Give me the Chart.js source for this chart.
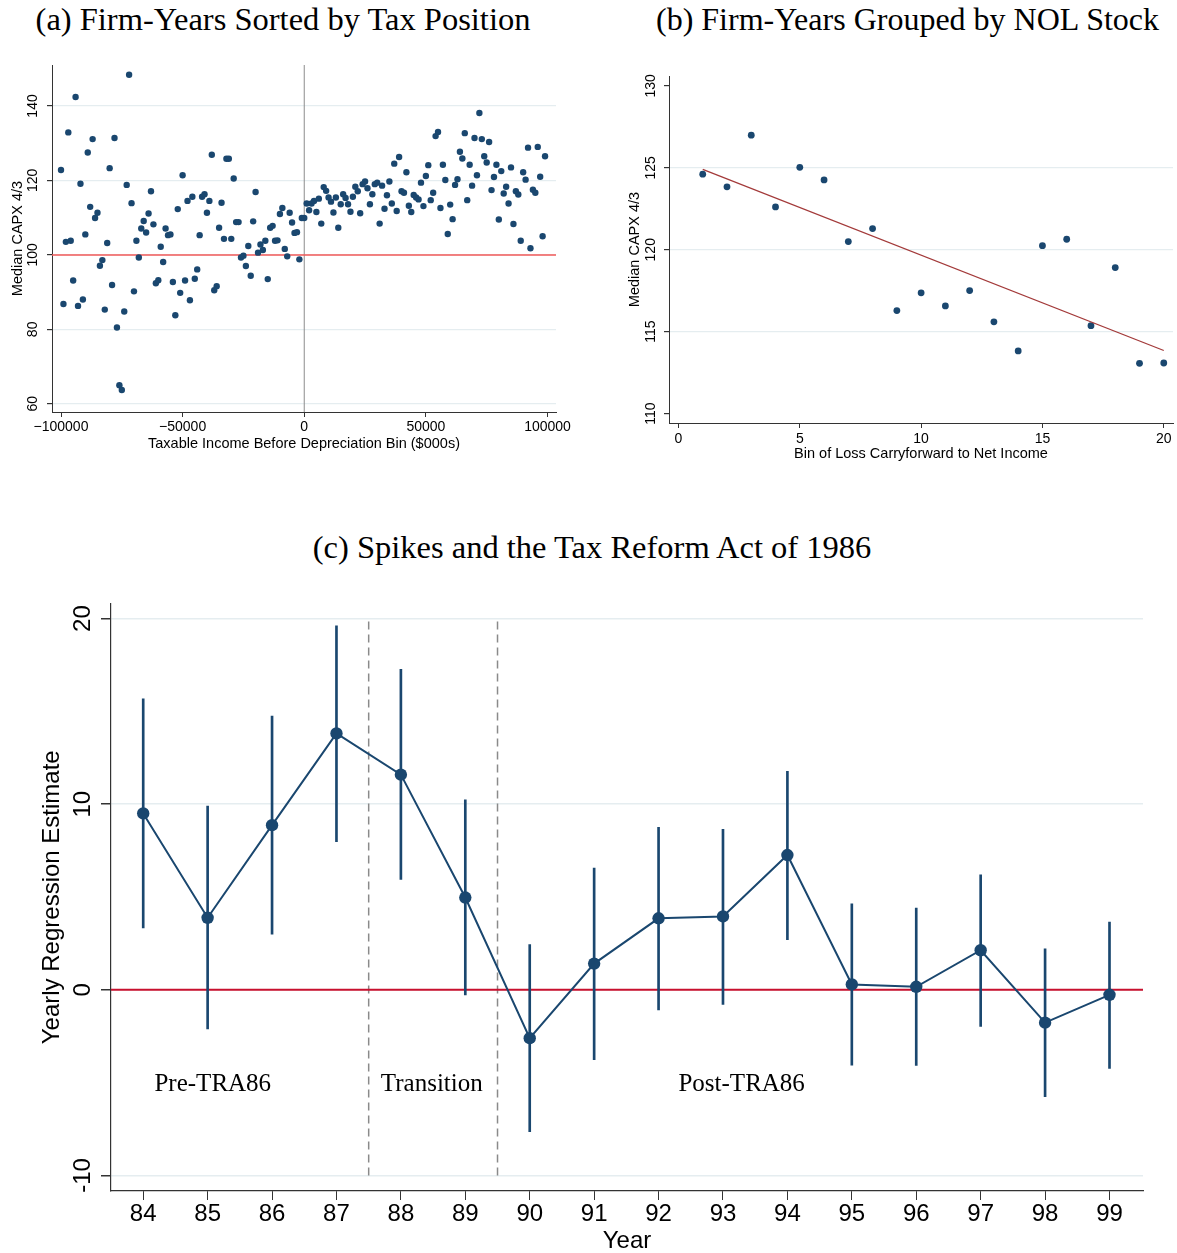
<!DOCTYPE html>
<html>
<head>
<meta charset="utf-8">
<script src="https://cdn.jsdelivr.net/npm/chart.js@4.4.1/dist/chart.umd.min.js"></script>
<style>
  html, body { margin: 0; padding: 0; background: #fff; }
  body { width: 1177px; height: 1253px; position: relative; overflow: hidden; }
  .title { position: absolute; font-family: "Liberation Serif", serif; font-size: 32.5px; line-height: 32px; color: #000; text-align: center; white-space: nowrap; }
  canvas { position: absolute; }
</style>
</head>
<body>
<div class="title" style="left:0;width:566px;top:3px">(a) Firm-Years Sorted by Tax Position</div>
<div class="title" style="left:656px;width:500px;top:3px;font-size:32px">(b) Firm-Years Grouped by NOL Stock</div>
<div class="title" style="left:0;width:1184px;top:531px">(c) Spikes and the Tax Reform Act of 1986</div>
<canvas id="chartA" width="590" height="420" style="left:0;top:50px"></canvas>
<canvas id="chartB" width="577" height="420" style="left:600px;top:50px"></canvas>
<canvas id="chartC" width="1177" height="673" style="left:0;top:580px"></canvas>
<script>
// (a) taxable income bins ($000s) and median CAPX 4/3
const binA = [
  -100000, -99000, -98000, -97000, -96000, -95000, -94000, -93000, -92000, -91000,
  -90000, -89000, -88000, -87000, -86000, -85000, -84000, -83000, -82000, -81000,
  -80000, -79000, -78000, -77000, -76000, -75000, -74000, -73000, -72000, -71000,
  -70000, -69000, -68000, -67000, -66000, -65000, -64000, -63000, -62000, -61000,
  -60000, -59000, -58000, -57000, -56000, -55000, -54000, -53000, -52000, -51000,
  -50000, -49000, -48000, -47000, -46000, -45000, -44000, -43000, -42000, -41000,
  -40000, -39000, -38000, -37000, -36000, -35000, -34000, -33000, -32000, -31000,
  -30000, -29000, -28000, -27000, -26000, -25000, -24000, -23000, -22000, -21000,
  -20000, -19000, -18000, -17000, -16000, -15000, -14000, -13000, -12000, -11000,
  -10000, -9000, -8000, -7000, -6000, -5000, -4000, -3000, -2000, -1000,
  0, 1000, 2000, 3000, 4000, 5000, 6000, 7000, 8000, 9000,
  10000, 11000, 12000, 13000, 14000, 15000, 16000, 17000, 18000, 19000,
  20000, 21000, 22000, 23000, 24000, 25000, 26000, 27000, 28000, 29000,
  30000, 31000, 32000, 33000, 34000, 35000, 36000, 37000, 38000, 39000,
  40000, 41000, 42000, 43000, 44000, 45000, 46000, 47000, 48000, 49000,
  50000, 51000, 52000, 53000, 54000, 55000, 56000, 57000, 58000, 59000,
  60000, 61000, 62000, 63000, 64000, 65000, 66000, 67000, 68000, 69000,
  70000, 71000, 72000, 73000, 74000, 75000, 76000, 77000, 78000, 79000,
  80000, 81000, 82000, 83000, 84000, 85000, 86000, 87000, 88000, 89000,
  90000, 91000, 92000, 93000, 94000, 95000, 96000, 97000, 98000, 99000
];
const capxA = [
  122.8, 86.8, 103.5, 132.9, 103.8, 93.1, 142.4, 86.3, 119.1, 88.0,
  105.5, 127.5, 112.9, 131.1, 109.9, 111.3, 97.1, 98.6, 85.3, 103.2,
  123.3, 91.9, 131.4, 80.5, 65.0, 63.7, 84.8, 118.8, 148.4, 113.9,
  90.2, 103.8, 99.3, 107.1, 109.1, 106.0, 111.1, 117.1, 108.2, 92.4,
  93.2, 102.2, 98.1, 107.1, 105.3, 105.5, 92.7, 83.8, 112.3, 89.8,
  121.4, 93.1, 114.5, 87.8, 115.6, 93.6, 96.1, 105.3, 115.6, 116.3,
  111.3, 114.5, 126.9, 90.5, 91.6, 107.3, 114.0, 104.3, 125.8, 125.8,
  104.3, 120.5, 108.8, 108.8, 99.3, 99.8, 97.0, 102.4, 94.4, 109.0,
  116.9, 100.6, 102.8, 101.3, 103.8, 93.5, 107.3, 107.8, 103.8, 103.9,
  111.0, 112.6, 101.6, 99.6, 111.3, 108.7, 105.9, 106.1, 98.8, 109.9,
  109.9, 113.8, 112.0, 113.8, 114.5, 111.5, 115.1, 108.4, 118.2, 117.2,
  115.4, 114.3, 111.4, 115.4, 107.3, 113.6, 116.3, 115.3, 113.6, 111.6,
  115.6, 118.3, 117.1, 111.2, 119.0, 119.7, 117.9, 113.6, 116.3, 119.0,
  119.4, 108.4, 118.6, 112.4, 116.0, 119.7, 113.8, 124.5, 111.8, 126.3,
  117.1, 116.7, 122.2, 113.2, 111.5, 116.1, 115.4, 114.9, 119.4, 113.1,
  121.2, 124.1, 114.7, 116.7, 131.9, 133.0, 112.6, 124.2, 120.1, 105.6,
  113.5, 109.6, 118.8, 120.3, 127.7, 125.9, 132.7, 114.7, 124.2, 118.6,
  131.4, 121.4, 138.1, 131.1, 126.5, 124.8, 130.3, 117.4, 120.9, 124.2,
  109.5, 122.5, 116.5, 118.3, 113.8, 123.5, 108.3, 117.1, 116.2, 103.8,
  122.2, 120.2, 128.8, 101.8, 117.5, 116.7, 129.0, 121.0, 105.0, 126.5
];
const ticksAx = [-100000, -50000, 0, 50000, 100000];
const ticksAy = [60, 80, 100, 120, 140];
const rangeAx = [-103700, 103500];
const rangeAy = [57.8, 151];
const refA = 100;       // horizontal reference line
const cutA = 0;         // zero taxable income

// (b) NOL stock bins
const binB = [1, 2, 3, 4, 5, 6, 7, 8, 9, 10, 11, 12, 13, 14, 15, 16, 17, 18, 19, 20];
const capxB = [124.61, 123.84, 126.99, 122.61, 125.03, 124.26, 120.50, 121.29, 116.29, 117.37,
               116.57, 117.51, 115.60, 113.83, 120.25, 120.64, 115.37, 118.91, 113.07, 113.09];
const ticksBx = [0, 5, 10, 15, 20];
const ticksBy = [110, 115, 120, 125, 130];
const gridBy = [115, 120, 125];
const rangeBx = [-0.39, 20.38];
const rangeBy = [109.43, 130.6];

// (c) yearly estimates with confidence bands
const years = [84, 85, 86, 87, 88, 89, 90, 91, 92, 93, 94, 95, 96, 97, 98, 99];
const estimate = [9.50, 3.88, 8.87, 13.81, 11.59, 4.97, -2.61, 1.41, 3.85, 3.95, 7.26, 0.29, 0.16, 2.13, -1.77, -0.27];
const ciLow = [3.33, -2.11, 2.99, 7.98, 5.94, -0.27, -7.64, -3.76, -1.09, -0.79, 2.70, -4.06, -4.08, -1.97, -5.76, -4.24];
const ciHigh = [15.67, 9.89, 14.74, 19.61, 17.26, 10.23, 2.43, 6.55, 8.75, 8.64, 11.77, 4.63, 4.40, 6.19, 2.20, 3.65];
const ticksCy = [-10, 0, 10, 20];
const rangeCx = [83.5, 99.52];
const rangeCy = [-10.84, 20.81];
const periodBreaks = [87.5, 89.5];
const periodNames = ['Pre-TRA86', 'Transition', 'Post-TRA86'];
const periodX = [85.08, 88.48, 93.29];
const periodY = -5.1;

const NAVY = '#1a476f';
const GRID = '#e5edf0';
Chart.defaults.font.family = '"Liberation Sans", Arial, sans-serif';
Chart.defaults.color = '#000';

const fixedTicks = values => scale => { scale.ticks = values.map(v => ({ value: v })); };
const minusSign = v => String(v).replace('-', '\u2212');

function baseOptions(padding) {
  return {
    responsive: false,
    animation: false,
    events: [],
    layout: { padding },
    plugins: { legend: { display: false }, tooltip: { enabled: false } }
  };
}

// ---- panel (a)
new Chart(document.getElementById('chartA'), {
  type: 'scatter',
  data: {
    datasets: [
      { data: binA.map((x, i) => ({ x, y: capxA[i] })), pointRadius: 3.2, pointBackgroundColor: NAVY, pointBorderWidth: 0, order: 0 },
      { type: 'line', data: [{ x: rangeAx[0], y: refA }, { x: rangeAx[1], y: refA }], borderColor: '#f25a5a', borderWidth: 1.5, pointRadius: 0, order: 1 },
      { type: 'line', data: [{ x: cutA, y: rangeAy[0] }, { x: cutA, y: rangeAy[1] }], borderColor: '#8c8c8c', borderWidth: 1, pointRadius: 0, order: 2 }
    ]
  },
  options: {
    ...baseOptions({ left: 0, top: 15, right: 34, bottom: 0 }),
    scales: {
      x: {
        type: 'linear', min: rangeAx[0], max: rangeAx[1],
        afterBuildTicks: fixedTicks(ticksAx),
        afterFit: s => { s.height = 58; },
        ticks: { font: { size: 14 }, padding: 2, maxRotation: 0, autoSkip: false, callback: minusSign },
        grid: { drawOnChartArea: false, tickLength: 5, tickColor: '#333' },
        border: { color: '#333' },
        title: { display: true, text: 'Taxable Income Before Depreciation Bin ($000s)', font: { size: 14.5 }, padding: { top: 0, bottom: 17 } }
      },
      y: {
        type: 'linear', min: rangeAy[0], max: rangeAy[1],
        afterBuildTicks: fixedTicks(ticksAy),
        afterFit: s => { s.width = 52; },
        ticks: { font: { size: 14 }, padding: 2, minRotation: 90, maxRotation: 90, crossAlign: 'center', autoSkip: false },
        grid: { color: GRID, lineWidth: 1.2, tickLength: 5, tickColor: '#333' },
        border: { color: '#333' },
        title: { display: true, text: 'Median CAPX 4/3', font: { size: 14.5 }, padding: { top: 9, bottom: 0 } }
      }
    }
  }
});

// ---- panel (b): least squares fit through the bins
const mx = binB.reduce((a, b) => a + b, 0) / binB.length;
const my = capxB.reduce((a, b) => a + b, 0) / capxB.length;
let sxy = 0, sxx = 0;
binB.forEach((x, i) => { sxy += (x - mx) * (capxB[i] - my); sxx += (x - mx) * (x - mx); });
const slope = sxy / sxx;
const fitB = [binB[0], binB[binB.length - 1]].map(x => ({ x, y: my + slope * (x - mx) }));

new Chart(document.getElementById('chartB'), {
  type: 'scatter',
  data: {
    datasets: [
      { type: 'line', data: fitB, borderColor: '#a33a3a', borderWidth: 1.3, pointRadius: 0, order: 0 },
      { data: binB.map((x, i) => ({ x, y: capxB[i] })), pointRadius: 3.4, pointBackgroundColor: NAVY, pointBorderWidth: 0, order: 1 }
    ]
  },
  options: {
    ...baseOptions({ left: 0, top: 26, right: 3, bottom: 0 }),
    scales: {
      x: {
        type: 'linear', min: rangeBx[0], max: rangeBx[1],
        afterBuildTicks: fixedTicks(ticksBx),
        afterFit: s => { s.height = 47; },
        ticks: { font: { size: 14 }, padding: 3, maxRotation: 0, autoSkip: false },
        grid: { drawOnChartArea: false, tickLength: 5, tickColor: '#333' },
        border: { color: '#333' },
        title: { display: true, text: 'Bin of Loss Carryforward to Net Income', font: { size: 14.5 }, padding: { top: 0, bottom: 7 } }
      },
      y: {
        type: 'linear', min: rangeBy[0], max: rangeBy[1],
        afterBuildTicks: fixedTicks(ticksBy),
        afterFit: s => { s.width = 69; },
        ticks: { font: { size: 14 }, padding: 1, minRotation: 90, maxRotation: 90, crossAlign: 'center', autoSkip: false },
        grid: { color: c => gridBy.includes(c.tick.value) ? GRID : 'rgba(0,0,0,0)', lineWidth: 1.2, tickLength: 5, tickColor: '#333' },
        border: { color: '#333' },
        title: { display: true, text: 'Median CAPX 4/3', font: { size: 14.5 }, padding: { top: 26, bottom: 0 } }
      }
    }
  }
});

// ---- panel (c)
const periodLabels = {
  id: 'periodLabels',
  afterDatasetsDraw(chart) {
    const { ctx, scales: { x, y } } = chart;
    ctx.save();
    ctx.font = '25px "Liberation Serif", serif';
    ctx.fillStyle = '#000';
    ctx.textAlign = 'center';
    ctx.textBaseline = 'middle';
    periodNames.forEach((t, i) => ctx.fillText(t, x.getPixelForValue(periodX[i]), y.getPixelForValue(periodY)));
    ctx.restore();
  }
};

const breakSets = periodBreaks.map(b => ({
  type: 'line', data: [{ x: b, y: ticksCy[0] }, { x: b, y: ticksCy[ticksCy.length - 1] }],
  borderColor: '#8a8a8a', borderWidth: 1.5, borderDash: [8, 5], pointRadius: 0, order: 4
}));

new Chart(document.getElementById('chartC'), {
  type: 'scatter',
  data: {
    datasets: [
      { type: 'line', data: years.map((x, i) => ({ x, y: estimate[i] })), borderColor: NAVY, borderWidth: 2, pointRadius: 6.2, pointBackgroundColor: NAVY, pointBorderWidth: 0, order: 0 },
      { type: 'bar', data: years.map((x, i) => ({ x, y: [ciLow[i], ciHigh[i]] })), backgroundColor: NAVY, barThickness: 2, borderWidth: 0, order: 1 },
      { type: 'line', data: [{ x: rangeCx[0], y: 0 }, { x: rangeCx[1], y: 0 }], borderColor: '#c8102e', borderWidth: 2, pointRadius: 0, order: 3 },
      ...breakSets
    ]
  },
  options: {
    ...baseOptions({ left: 0, top: 23.5, right: 34, bottom: 0 }),
    scales: {
      x: {
        type: 'linear', min: rangeCx[0], max: rangeCx[1], offset: false,
        afterBuildTicks: fixedTicks(years),
        afterFit: s => { s.height = 62; },
        ticks: { font: { size: 24 }, padding: 0, maxRotation: 0, autoSkip: false },
        grid: { drawOnChartArea: false, offset: false, tickLength: 9, tickColor: '#333' },
        border: { color: '#333', width: 1.2 },
        title: { display: true, text: 'Year', font: { size: 24, lineHeight: 1 }, padding: { top: 0, bottom: 0 } }
      },
      y: {
        type: 'linear', min: rangeCy[0], max: rangeCy[1],
        afterBuildTicks: fixedTicks(ticksCy),
        afterFit: s => { s.width = 111; },
        ticks: { font: { size: 24 }, padding: 0, minRotation: 90, maxRotation: 90, crossAlign: 'center', autoSkip: false },
        grid: { color: GRID, lineWidth: 1.5, tickLength: 10, tickColor: '#333' },
        border: { color: '#333', width: 1.2 },
        title: { display: true, text: 'Yearly Regression Estimate', font: { size: 24 }, padding: { top: 38, bottom: 0 } }
      }
    }
  },
  plugins: [periodLabels]
});
</script>
</body>
</html>
